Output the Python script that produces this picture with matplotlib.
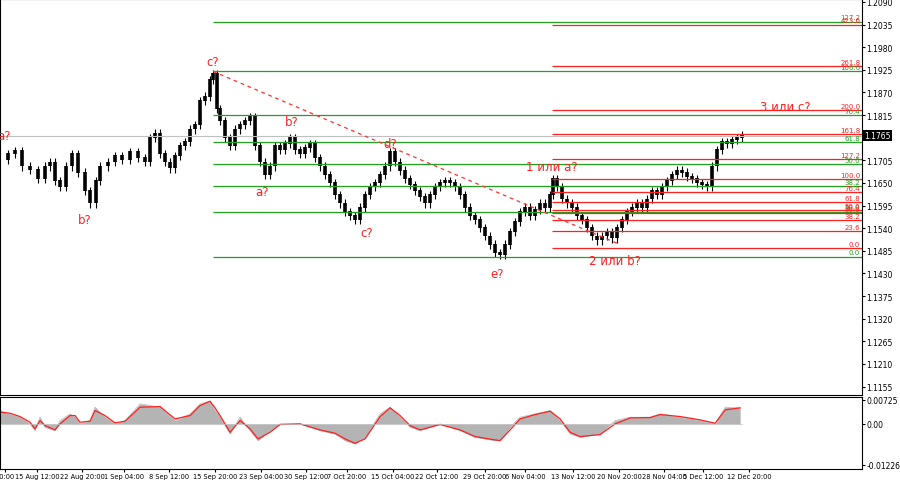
import matplotlib.pyplot as plt
import numpy as np

# price path (x position on chart, close price)
px = [0, 8, 15, 22, 30, 38, 45, 50, 55, 60, 66, 72, 78, 85, 90, 96, 100, 108, 115, 122, 130, 138, 145,
      150, 155, 160, 165, 170, 175, 180, 185, 190, 195, 200, 205, 210, 213, 217, 220, 225, 230, 235, 240,
      245, 250, 255, 260, 265, 270, 275, 280, 285, 290, 295, 300, 305, 310, 315, 320, 325, 330, 335, 340,
      345, 350, 355, 360, 365, 370, 375, 380, 385, 390, 395, 400, 405, 410, 415, 420, 425, 430, 435, 440,
      445, 450, 455, 460, 465, 470, 475, 480, 485, 490, 495, 500, 505, 510, 515, 520, 525, 530, 535, 540,
      545, 550, 553, 557, 562, 567, 572, 577, 582, 587, 592, 597, 602, 607, 612, 617, 622, 627, 632, 637,
      642, 647, 652, 657, 662, 667, 672, 677, 682, 687, 692, 697, 702, 707, 712, 717, 722, 727, 732, 737, 742]
close = [1.1705, 1.1720, 1.1728, 1.1690, 1.1682, 1.1660, 1.1690, 1.1700, 1.1655, 1.1640, 1.1690, 1.1720,
         1.1675, 1.1630, 1.1600, 1.1655, 1.1690, 1.1700, 1.1715, 1.1705, 1.1725, 1.1710, 1.1700,
         1.1760, 1.1770, 1.1720, 1.1700, 1.1685, 1.1715, 1.1740, 1.1750, 1.1780, 1.1790, 1.1850, 1.1860,
         1.1900, 1.1915, 1.1830, 1.1800, 1.1760, 1.1740, 1.1780, 1.1790, 1.1800, 1.1810, 1.1740, 1.1700,
         1.1670, 1.1690, 1.1740, 1.1730, 1.1745, 1.1760, 1.1730, 1.1720, 1.1735, 1.1745, 1.1710, 1.1690,
         1.1670, 1.1650, 1.1620, 1.1600, 1.1580, 1.1570, 1.1560, 1.1590, 1.1620, 1.1640, 1.1650, 1.1670,
         1.1690, 1.1725, 1.1700, 1.1680, 1.1660, 1.1645, 1.1630, 1.1615, 1.1600, 1.1620, 1.1640, 1.1650,
         1.1655, 1.1650, 1.1640, 1.1620, 1.1590, 1.1570, 1.1560, 1.1540, 1.1520, 1.1500, 1.1480, 1.1475,
         1.1500, 1.1530, 1.1555, 1.1580, 1.1590, 1.1570, 1.1585, 1.1600, 1.1590, 1.1620, 1.1660, 1.1640,
         1.1610, 1.1600, 1.1590, 1.1570, 1.1560, 1.1540, 1.1520, 1.1510, 1.1520, 1.1530, 1.1515, 1.1540,
         1.1560, 1.1580, 1.1590, 1.1600, 1.1590, 1.1610, 1.1630, 1.1620, 1.1640, 1.1655, 1.1670, 1.1680,
         1.1675, 1.1665, 1.1660, 1.1650, 1.1645, 1.1640, 1.1690, 1.1730, 1.1750, 1.1745, 1.1755, 1.1760,
         1.1765, 1.1790]

# oscillator (histogram and signal)
ox = [0, 10, 20, 30, 35, 40, 45, 55, 60, 70, 75, 80, 90, 95, 105, 115, 125, 140, 160, 175, 190, 200, 210,
      215, 220, 230, 240, 250, 258, 270, 280, 300, 320, 335, 345, 355, 365, 380, 390, 400, 410, 420, 440,
      460, 475, 495, 500, 510, 520, 535, 550, 560, 570, 580, 600, 615, 630, 650, 660, 680, 700, 715, 725, 740]
hist = [0.004, 0.003, 0.002, 0.0, -0.002, 0.002, -0.001, -0.002, 0.001, 0.003, 0.002, 0.0, 0.001, 0.005,
        0.002, 0.0, 0.001, 0.006, 0.005, 0.001, 0.003, 0.006, 0.0068, 0.004, 0.002, -0.003, 0.002, -0.002,
        -0.005, -0.002, 0.0, 0.0, -0.002, -0.003, -0.005, -0.006, -0.004, 0.003, 0.005, 0.002, -0.001,
        -0.002, 0.0, -0.002, -0.004, -0.005, -0.005, -0.001, 0.002, 0.003, 0.004, 0.001, -0.003, -0.004,
        -0.003, 0.001, 0.002, 0.002, 0.003, 0.002, 0.001, 0.0, 0.005, 0.0048]
signal = [0.0035, 0.0032, 0.0022, 0.0005, -0.0015, 0.001, -0.0005, -0.0018, 0.0, 0.0025, 0.0025, 0.0005,
          0.0008, 0.004, 0.0025, 0.0003, 0.0008, 0.005, 0.0052, 0.0015, 0.0025, 0.0055, 0.0068, 0.0048,
          0.0025, -0.0025, 0.001, -0.0015, -0.0045, -0.0025, -0.0002, 0.0, -0.0018, -0.0028, -0.0045,
          -0.0058, -0.0045, 0.0022, 0.0048, 0.0025, -0.0005, -0.0018, -0.0002, -0.0018, -0.0038, -0.0048,
          -0.005, -0.0018, 0.0015, 0.0028, 0.0038, 0.0015, -0.0025, -0.0038, -0.0032, 0.0, 0.0018, 0.0019,
          0.0028, 0.0022, 0.0012, 0.0002, 0.0042, 0.0048]

green_lv = [1.2042, 1.1921, 1.1814, 1.1749, 1.1695, 1.1642, 1.1580, 1.1471]
green_lb = ['127.2', '100.0', '76.4', '61.8', '50.0', '38.2', '50.0', '0.0']
red_lv = [1.2035, 1.1933, 1.1826, 1.1768, 1.1707, 1.1659, 1.1628, 1.1604, 1.1583, 1.1576, 1.1559, 1.1533, 1.1492]
red_lb = ['423.6', '261.8', '200.0', '161.8', '127.2', '100.0', '76.4', '61.8', '50.0', '50.0', '38.2', '23.6', '0.0']

price_ticks = [1.1155, 1.1210, 1.1265, 1.1320, 1.1375, 1.1430, 1.1485, 1.1540, 1.1595, 1.1650, 1.1705,
               1.1815, 1.1870, 1.1925, 1.1980, 1.2035, 1.2090]
date_pos = [5, 37, 82, 124, 169, 215, 261, 306, 347, 393, 437, 485, 525, 573, 619, 664, 703, 749]
date_lb = ['20:00', '15 Aug 12:00', '22 Aug 20:00', '1 Sep 04:00', '8 Sep 12:00', '15 Sep 20:00',
           '23 Sep 04:00', '30 Sep 12:00', '7 Oct 20:00', '15 Oct 04:00', '22 Oct 12:00', '29 Oct 20:00',
           '6 Nov 04:00', '13 Nov 12:00', '20 Nov 20:00', '28 Nov 04:00', '5 Dec 12:00', '12 Dec 20:00']

fig = plt.figure(figsize=(9, 4.85), dpi=100)
ax = fig.add_axes([0.0, 0.184, 0.958, 0.816])
ax2 = fig.add_axes([0.0, 0.031, 0.958, 0.148])
XMAX = 862

# candles
for i in range(1, len(px)):
    o, c = close[i - 1], close[i]
    ax.vlines(px[i], min(o, c) - 0.0010, max(o, c) + 0.0010, color='black', lw=0.8)
    ax.vlines(px[i], min(o, c), max(o, c) + 0.0002, color='black', lw=2.6)

# levels
for v, lb in zip(green_lv, green_lb):
    ax.hlines(v, 213, XMAX, color='#22a022', lw=0.9)
    ax.text(XMAX - 2, v + 0.0003, lb, color='#22a022', fontsize=5, ha='right', va='bottom')
for v, lb in zip(red_lv, red_lb):
    ax.hlines(v, 552, XMAX, color='#ff2020', lw=0.9)
    ax.text(XMAX - 2, v + 0.0003, lb, color='#ff2020', fontsize=5, ha='right', va='bottom')
ax.axhline(1.1765, color='#c0c0c0', lw=0.8)
ax.plot([213, 620], [1.1921, 1.1500], color='#ff3030', lw=0.9, ls=(0, (3, 3)))

wave_lbl = [(4, 1.1765, 'a?'), (85, 1.1560, 'b?'), (213, 1.1945, 'c?'), (262, 1.1630, 'a?'),
            (292, 1.1800, 'b?'), (367, 1.1530, 'c?'), (390, 1.1745, 'd?'), (497, 1.1430, 'e?'),
            (552, 1.1690, '1 или a?'), (615, 1.1462, '2 или b?'), (785, 1.1835, '3 или c?')]
for x, y, t in wave_lbl:
    ax.text(x, y, t, color='#ff2020', fontsize=8.5, ha='center', va='center')

ax.set_xlim(0, XMAX)
ax.set_ylim(1.1135, 1.2097)
ax.yaxis.tick_right()
ax.set_yticks(price_ticks)
ax.set_yticklabels([f'{t:.4f}' for t in price_ticks], fontsize=5.5)
ax.set_xticks([])
ax.text(1.002, (1.1765 - 1.1135) / (1.2097 - 1.1135), '1.1765', transform=ax.transAxes, fontsize=5.5,
        color='white', va='center', ha='left', bbox=dict(facecolor='black', pad=1, lw=0))

# oscillator
ax2.fill_between(ox, 0, hist, color='#b4b4b4', lw=0)
ax2.plot(ox, hist, color='#b4b4b4', lw=0.5)
ax2.plot(ox, signal, color='#ff2020', lw=0.9)
ax2.axhline(0, color='#c0c0c0', lw=0.5, xmax=742 / XMAX)
ax2.set_xlim(0, XMAX)
ax2.set_ylim(-0.0135, 0.0080)
ax2.yaxis.tick_right()
ax2.set_yticks([-0.01226, 0.0, 0.00725])
ax2.set_yticklabels(['-0.01226', '0.00', '0.00725'], fontsize=5.5)
ax2.set_xticks(date_pos)
ax2.set_xticklabels(date_lb, fontsize=4.8)
for a in (ax, ax2):
    a.tick_params(length=2, pad=1)
    for s in a.spines.values():
        s.set_linewidth(0.8)

fig.savefig('out.png', dpi=100)
